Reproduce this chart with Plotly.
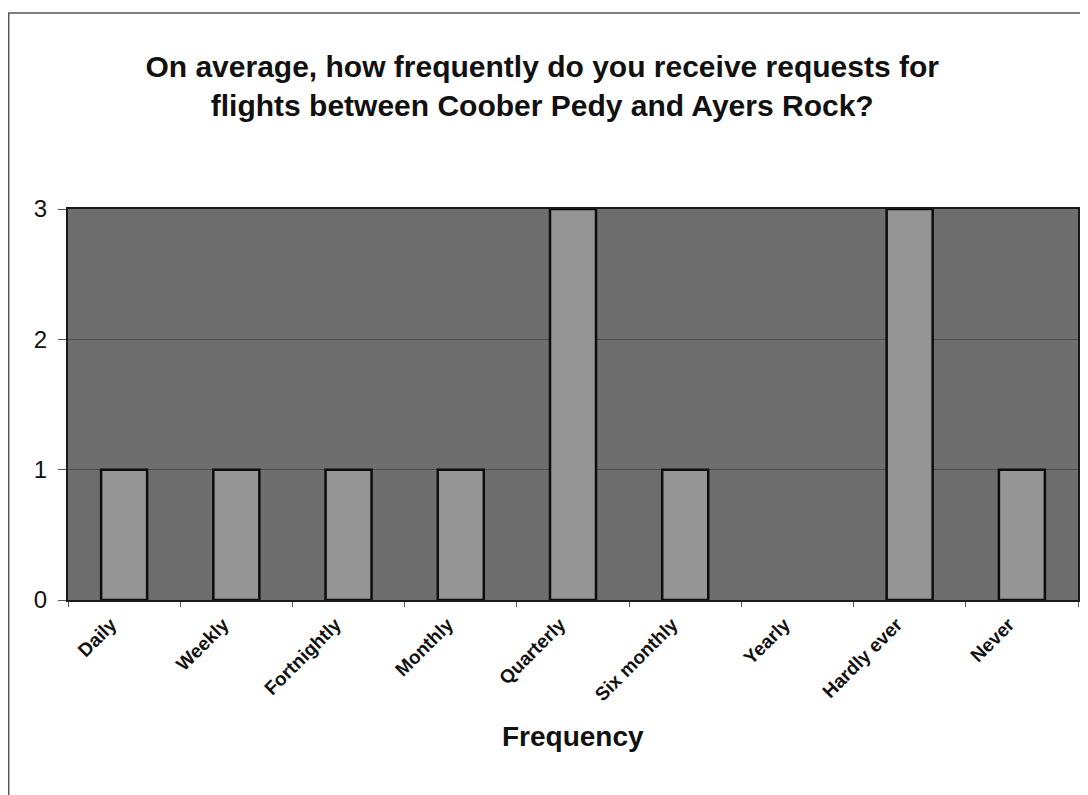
import plotly.graph_objects as go

categories = ["Daily", "Weekly", "Fortnightly", "Monthly", "Quarterly",
              "Six monthly", "Yearly", "Hardly ever", "Never"]
counts = [1, 1, 1, 1, 3, 1, 0, 3, 1]
y_ticks = [0, 1, 2, 3]

title_text = ("On average, how frequently do you receive requests for<br>"
              "flights between Coober Pedy and Ayers Rock?")
x_title = "Frequency"

FONT = "Liberation Sans, Arial, sans-serif"
INK = "#111111"

fig = go.Figure(go.Bar(
    x=categories, y=counts,
    marker=dict(color="#959595",
                line=dict(color="#0d0d0d",
                          width=[2.5 if v > 0 else 0 for v in counts])),
))

fig.update_layout(
    width=1088, height=795,
    paper_bgcolor="white",
    plot_bgcolor="#6e6e6e",
    margin=dict(l=60, r=18, t=201, b=203),
    bargap=0.59,
    showlegend=False,
    font=dict(family=FONT, color=INK),
    title=dict(text="<b>" + title_text + "</b>", x=0.491, xanchor="center",
               y=0.913, yanchor="middle",
               font=dict(size=30, family=FONT, color=INK)),
    xaxis=dict(
        tickangle=-45,
        tickfont=dict(size=19, family=FONT, color=INK, weight="bold"),
        ticklabelstandoff=4,
        ticklabelshift=-13,
        showline=True, linecolor="#1a1a1a", linewidth=2, mirror=True,
        showgrid=False,
        ticks="outside", tickson="boundaries", ticklen=5, tickcolor="#555555",
    ),
    yaxis=dict(
        range=[0, 3], tickvals=y_ticks,
        tickfont=dict(size=24, family=FONT, color=INK),
        ticklabelstandoff=6,
        showline=True, linecolor="#1a1a1a", linewidth=2, mirror=True,
        showgrid=True, gridcolor="#4e4e4e", gridwidth=1,
        ticks="outside", ticklen=8, tickcolor="#555555",
        zeroline=False,
    ),
)

fig.add_annotation(text="<b>" + x_title + "</b>", xref="paper", yref="paper",
                   x=0.5, y=-136 / 391, xanchor="center", yanchor="middle",
                   showarrow=False,
                   font=dict(size=28, family=FONT, color=INK))

fig.add_shape(type="rect", xref="paper", yref="paper",
              x0=-59.3 / 1010, x1=1.2, y0=-0.8, y1=1 + 196 / 391,
              line=dict(color="#555555", width=1.5))

fig.write_html("out.html")
